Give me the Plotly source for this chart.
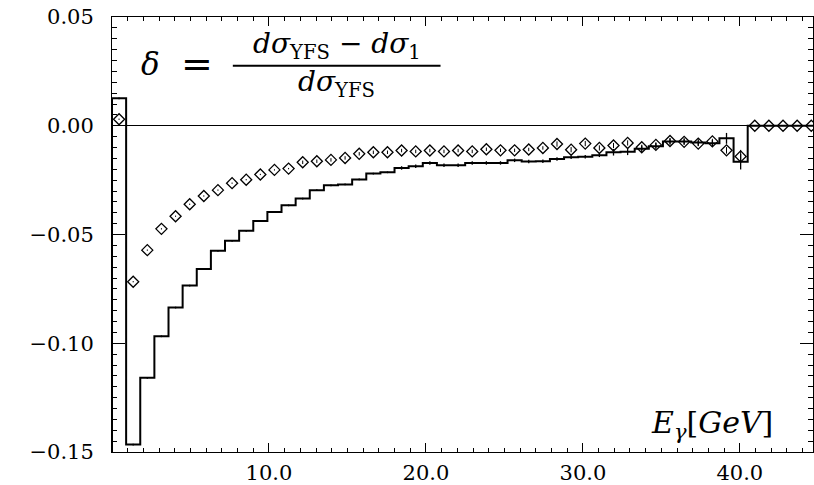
import plotly.graph_objects as go

# ---------------- data ----------------
BIN_WIDTH = 0.9
N_BINS = 50

# histogram (solid step line)
hist_vals = [0.0126, -0.1466, -0.1159, -0.0968, -0.0836, -0.0735, -0.0659, -0.0575, -0.0529, -0.0483,
             -0.0438, -0.0397, -0.0366, -0.0335, -0.0296, -0.0274, -0.0270, -0.0247, -0.0220, -0.0214,
             -0.0194, -0.0186, -0.0171, -0.0182, -0.0182, -0.0171, -0.0171, -0.0171, -0.0159, -0.0164,
             -0.0163, -0.0153, -0.0145, -0.0142, -0.0136, -0.0122, -0.0120, -0.0106, -0.0094, -0.0072,
             -0.0072, -0.0077, -0.0081, -0.0058, -0.0165, 0.0, 0.0, 0.0, 0.0, 0.0]
hist_errs = [0.0004] * 20 + [0.0008] * 15 + [0.0015] * 8 + [0.0025, 0.0036] + [0.0] * 5

# diamonds
diam_vals = [0.0030, -0.0717, -0.0572, -0.0474, -0.0416, -0.0361, -0.0323, -0.0296, -0.0264, -0.0248,
             -0.0224, -0.0203, -0.0197, -0.0168, -0.0163, -0.0157, -0.0148, -0.0129, -0.0122, -0.0122,
             -0.0114, -0.0118, -0.0114, -0.0118, -0.0114, -0.0118, -0.0108, -0.0113, -0.0113, -0.0109,
             -0.0102, -0.0084, -0.0110, -0.0082, -0.0102, -0.0091, -0.0079, -0.0099, -0.0088, -0.0070,
             -0.0074, -0.0082, -0.0072, -0.0113, -0.0141, 0.0, 0.0, 0.0, 0.0, 0.0]
diam_errs = [0.0003] * 13 + [0.0008] * 18 + [0.0012] * 12 + [0.0015, 0.0030] + [0.0] * 5

x_tick_vals = [10, 20, 30, 40]
x_tick_text = ["10.0", "20.0", "30.0", "40.0"]
y_tick_vals = [-0.15, -0.10, -0.05, 0.0, 0.05]
y_tick_text = ["\u22120.15", "\u22120.10", "\u22120.05", "0.00", "0.05"]

X_MIN, X_MAX = 0.0, 44.66
Y_MIN, Y_MAX = -0.15, 0.05

# ---------------- derived ----------------
edges = [i * BIN_WIDTH for i in range(N_BINS + 1)]
centers = [(i + 0.5) * BIN_WIDTH for i in range(N_BINS)]

step_x = [edges[0]] + edges[:-1] + [edges[-1]]
step_y = [Y_MIN] + hist_vals + [hist_vals[-1]]

FONT = "DejaVu Serif"

fig = go.Figure()

fig.add_trace(go.Scatter(
    x=step_x, y=step_y, mode="lines", line=dict(shape="hv", color="black", width=2),
    hoverinfo="skip", showlegend=False))

fig.add_trace(go.Scatter(
    x=centers, y=hist_vals, mode="markers",
    marker=dict(size=1, color="rgba(0,0,0,0)"),
    error_y=dict(type="data", array=hist_errs, visible=True, color="black", thickness=1.3, width=0),
    hoverinfo="skip", showlegend=False))

fig.add_trace(go.Scatter(
    x=centers, y=diam_vals, mode="markers",
    marker=dict(symbol="diamond-open", size=8.5, color="black", line=dict(width=1.3, color="black")),
    error_y=dict(type="data", array=diam_errs, visible=True, color="black", thickness=1, width=0),
    hoverinfo="skip", showlegend=False))

# ---------------- layout ----------------
W, H = 814, 485
ML, MR, MT, MB = 112, 0, 17, 30
PW, PH = W - ML - MR, H - MT - MB


def px(xp):
    return (xp - ML) / PW


def py(yp):
    return (H - MB - yp) / PH


annotations = [
    dict(text="<i>δ</i>", x=px(151), y=py(64), xanchor="center", yanchor="middle",
         font=dict(family=FONT, size=31, color="black")),
    dict(text="=", x=px(197), y=py(64), xanchor="center", yanchor="middle",
         font=dict(family=FONT, size=38, color="black")),
    dict(text="<i>dσ</i><sub>YFS</sub> \u2212 <i>dσ</i><sub>1</sub>", x=px(337), y=py(46),
         xanchor="center", yanchor="middle", font=dict(family=FONT, size=28, color="black")),
    dict(text="<i>dσ</i><sub>YFS</sub>", x=px(337), y=py(84),
         xanchor="center", yanchor="middle", font=dict(family=FONT, size=28, color="black")),
    dict(text="<i>E</i><sub><i>γ</i></sub>[<i>GeV</i>]", x=px(776), y=py(427),
         xanchor="right", yanchor="middle", font=dict(family=FONT, size=30, color="black")),
]
for a in annotations:
    a.update(xref="paper", yref="paper", showarrow=False)

shapes = [dict(type="line", xref="paper", yref="paper", x0=px(233), x1=px(441), y0=py(66), y1=py(66),
               line=dict(color="black", width=2))]

fig.update_layout(
    width=W, height=H,
    margin=dict(l=ML, r=MR, t=MT, b=MB, pad=0),
    paper_bgcolor="white", plot_bgcolor="white",
    annotations=annotations, shapes=shapes,
    font=dict(family=FONT, color="black"),
    xaxis=dict(
        range=[X_MIN, X_MAX], tickmode="array", tickvals=x_tick_vals, ticktext=x_tick_text,
        ticks="inside", ticklen=9, tickwidth=1, tickcolor="black",
        minor=dict(tickmode="linear", tick0=0, dtick=1, ticks="inside", ticklen=4,
                   tickwidth=1, tickcolor="black", showgrid=False),
        showline=True, linecolor="black", linewidth=1, mirror="allticks",
        showgrid=False, zeroline=False,
        tickfont=dict(family=FONT, size=21, color="black"), ticklabelstandoff=2,
    ),
    yaxis=dict(
        range=[Y_MIN, Y_MAX], tickmode="array", tickvals=y_tick_vals, ticktext=y_tick_text,
        ticks="inside", ticklen=13, tickwidth=1, tickcolor="black",
        minor=dict(tickmode="linear", tick0=0, dtick=0.005, ticks="inside", ticklen=5,
                   tickwidth=1, tickcolor="black", showgrid=False),
        showline=True, linecolor="black", linewidth=1, mirror="allticks",
        showgrid=False, zeroline=True, zerolinecolor="black", zerolinewidth=1,
        tickfont=dict(family=FONT, size=21, color="black"), ticklabelstandoff=13,
    ),
)

fig.write_html("out.html")
